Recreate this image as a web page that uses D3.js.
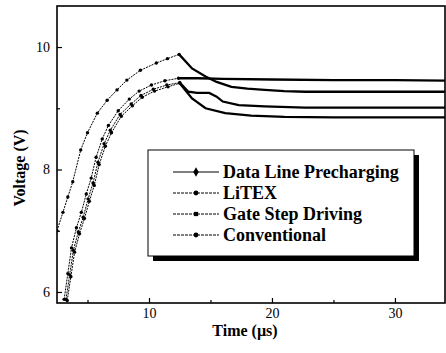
<!DOCTYPE html>
<html>
<head>
<meta charset="utf-8">
<script src="https://cdn.jsdelivr.net/npm/d3@7"></script>
<style>
  body { margin: 0; background: #fff; }
  svg { display: block; }
  svg text { font-family: Tinos, "Liberation Serif", "DejaVu Serif", "Noto Serif", FreeSerif, serif; fill: #000; }
</style>
</head>
<body>
<div id="chart"></div>
<script>
// Values (time in µs, voltage in V)
const seriesNames = ['Data Line Precharging', 'LiTEX', 'Gate Step Driving', 'Conventional'];

const dlpTime = [2.52, 3.0, 3.4, 3.8, 4.45, 5.0, 5.8, 6.6, 7.4, 8.2, 9.3, 10.6, 11.5, 12.45,
  13.5, 14.6, 15.5, 16.7, 18.0, 19.4, 21.0, 22.7, 26, 30, 34.1];
const dlpVolt = [7.0, 7.3, 7.55, 7.8, 8.32, 8.6, 8.92, 9.13, 9.3, 9.46, 9.62, 9.74, 9.81, 9.88,
  9.65, 9.52, 9.43, 9.35, 9.32, 9.30, 9.28, 9.27, 9.27, 9.27, 9.27];

const litexTime = [3.25, 3.55, 3.85, 4.25, 4.65, 5.05, 5.45, 5.85, 6.35, 6.85, 7.65, 8.55, 9.35, 10.35,
  11.45, 12.5, 13.2, 13.9, 14.9, 15.5, 16.0, 17.3, 19.4, 22.7, 28, 34.1];
const litexVolt = [5.88, 6.28, 6.68, 6.98, 7.22, 7.52, 7.78, 8.12, 8.42, 8.64, 8.9, 9.07, 9.21, 9.31,
  9.38, 9.42, 9.27, 9.25, 9.25, 9.19, 9.11, 9.05, 9.03, 9.01, 9.01, 9.01];

const gsdTime = [3.1, 3.4, 3.7, 4.1, 4.5, 4.9, 5.3, 5.7, 6.2, 6.7, 7.5, 8.4, 9.2, 10.2, 11.3, 12.4,
  14, 16, 20, 25, 30, 34.1];
const gsdVolt = [5.88, 6.3, 6.72, 7.05, 7.3, 7.6, 7.86, 8.2, 8.5, 8.72, 8.96, 9.15, 9.28, 9.38, 9.45, 9.49,
  9.49, 9.48, 9.47, 9.46, 9.46, 9.45];

const convTime = [3.35, 3.65, 3.95, 4.35, 4.75, 5.15, 5.55, 5.95, 6.45, 6.95, 7.75, 8.65, 9.45, 10.45,
  11.55, 12.5, 13.5, 14.6, 16.2, 18.3, 21, 25, 30, 34.1];
const convVolt = [5.86, 6.25, 6.65, 6.95, 7.2, 7.48, 7.74, 8.08, 8.38, 8.6, 8.87, 9.04, 9.18, 9.28,
  9.35, 9.41, 9.16, 9.0, 8.92, 8.88, 8.86, 8.85, 8.85, 8.85];

const xTicks = [10, 20, 30];
const xMinor = [5, 15, 25];
const yTicks = [6, 8, 10];
const yMinor = [7, 9];

const series = [
  { name: seriesNames[0], t: dlpTime, v: dlpVolt, marker: 'diamond' },
  { name: seriesNames[1], t: litexTime, v: litexVolt, marker: 'circle' },
  { name: seriesNames[2], t: gsdTime, v: gsdVolt, marker: 'square' },
  { name: seriesNames[3], t: convTime, v: convVolt, marker: 'circle' }
].map(s => ({ ...s, pts: s.t.map((t, i) => [t, s.v[i]]) }));

const W = 446, H = 353;
const margin = { left: 57, top: 6, right: 1, bottom: 50 };
const serif = 'Tinos, "Liberation Serif", "DejaVu Serif", "Noto Serif", FreeSerif, serif';

const svg = d3.select('#chart').append('svg')
  .attr('width', W)
  .attr('height', H)
  .attr('font-family', serif);

const x = d3.scaleLinear().domain([2.52, 34.07]).range([margin.left, W - margin.right]);
const y = d3.scaleLinear().domain([5.82, 10.67]).range([H - margin.bottom, margin.top]);

svg.append('clipPath').attr('id', 'plot-clip')
  .append('rect')
  .attr('x', margin.left).attr('y', margin.top)
  .attr('width', W - margin.right - margin.left)
  .attr('height', H - margin.bottom - margin.top);

// curves
const line = d3.line().x(d => x(d[0])).y(d => y(d[1]));
const plot = svg.append('g').attr('clip-path', 'url(#plot-clip)');

series.forEach(s => {
  const peak = d3.maxIndex(s.pts, d => d[1]);
  plot.append('path')
    .attr('d', line(s.pts.slice(0, peak + 1)))
    .attr('fill', 'none').attr('stroke', '#000').attr('stroke-width', 1)
    .attr('stroke-dasharray', '2,1');
  plot.append('path')
    .attr('d', line(s.pts.slice(peak)))
    .attr('fill', 'none').attr('stroke', '#000').attr('stroke-width', 2.3);
  plot.selectAll(null)
    .data(s.pts.slice(0, peak + 1))
    .enter().append('circle')
    .attr('cx', d => x(d[0]))
    .attr('cy', d => y(d[1]))
    .attr('r', 1.7)
    .attr('fill', '#000');
});

// frame
svg.append('rect')
  .attr('x', margin.left).attr('y', margin.top)
  .attr('width', W - margin.right - margin.left)
  .attr('height', H - margin.bottom - margin.top)
  .attr('fill', 'none').attr('stroke', '#000').attr('stroke-width', 1.6);

// axes with inward ticks
const xAxis = svg.append('g').attr('transform', `translate(0,${H - margin.bottom})`)
  .call(d3.axisBottom(x).tickValues(xTicks).tickSize(-5).tickPadding(5).tickFormat(d3.format('d')));
const xMinorAxis = svg.append('g').attr('transform', `translate(0,${H - margin.bottom})`)
  .call(d3.axisBottom(x).tickValues(xMinor).tickSize(-3).tickFormat(''));
const yAxis = svg.append('g').attr('transform', `translate(${margin.left},0)`)
  .call(d3.axisLeft(y).tickValues(yTicks).tickSize(-5).tickPadding(7).tickFormat(d3.format('d')));
const yMinorAxis = svg.append('g').attr('transform', `translate(${margin.left},0)`)
  .call(d3.axisLeft(y).tickValues(yMinor).tickSize(-3).tickFormat(''));

[xAxis, xMinorAxis, yAxis, yMinorAxis].forEach(g => {
  g.attr('font-family', serif);
  g.select('.domain').remove();
  g.selectAll('line').attr('stroke', '#000').attr('stroke-width', 1.2);
  g.selectAll('text')
    .style('font-family', serif)
    .style('font-size', '14px')
    .attr('fill', '#000');
});

// axis titles
svg.append('text')
  .attr('x', 245).attr('y', 336)
  .attr('text-anchor', 'middle')
  .style('font-size', '16px').style('font-weight', 'bold')
  .text('Time (µs)');

svg.append('text')
  .attr('transform', 'translate(25,168) rotate(-90)')
  .attr('text-anchor', 'middle')
  .style('font-size', '16px').style('font-weight', 'bold')
  .text('Voltage (V)');

// legend with drop shadow
const lg = { x: 148, y: 150, w: 266, h: 106 };
svg.append('rect')
  .attr('x', lg.x + 5).attr('y', lg.y + 5)
  .attr('width', lg.w).attr('height', lg.h)
  .attr('fill', '#000');
svg.append('rect')
  .attr('x', lg.x).attr('y', lg.y)
  .attr('width', lg.w).attr('height', lg.h)
  .attr('fill', '#fff').attr('stroke', '#000').attr('stroke-width', 1);

const rowY = d3.scalePoint().domain(seriesNames).range([172, 235]);
const items = svg.selectAll('.legend-item')
  .data(series)
  .enter().append('g')
  .attr('class', 'legend-item')
  .attr('transform', d => `translate(0,${rowY(d.name)})`);

items.append('line')
  .attr('x1', 173).attr('x2', 219)
  .attr('stroke', '#000').attr('stroke-width', 1)
  .attr('stroke-dasharray', (d, i) => i === 0 ? null : '3,1');
items.append('path')
  .attr('transform', 'translate(196,0)')
  .attr('d', d => d3.symbol()
    .type(d.marker === 'diamond' ? d3.symbolDiamond : d.marker === 'square' ? d3.symbolSquare : d3.symbolCircle)
    .size(d.marker === 'diamond' ? 26 : 18)())
  .attr('fill', '#000');
items.append('text')
  .attr('x', 223).attr('dy', '0.35em')
  .style('font-size', '18px').style('font-weight', 'bold')
  .text(d => d.name);
</script>
</body>
</html>
